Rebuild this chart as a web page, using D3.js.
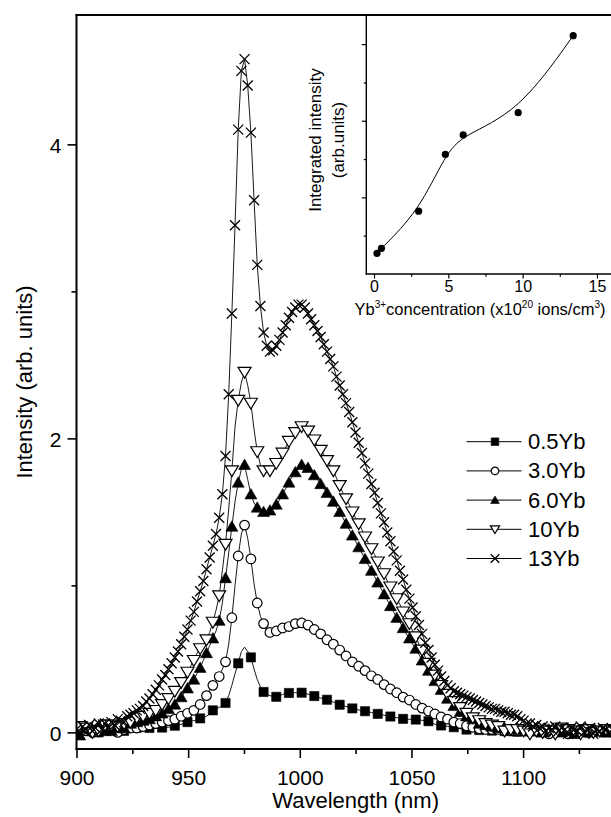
<!DOCTYPE html>
<html>
<head>
<meta charset="utf-8">
<script src="https://cdn.jsdelivr.net/npm/d3@7"></script>
<style>
  html, body { margin: 0; padding: 0; background: #fff; }
  svg { display: block; font-family: "Liberation Sans", Arial, Helvetica, sans-serif; }
</style>
</head>
<body>
<svg id="chart" width="611" height="817"></svg>
<script>
// Emission spectra of Yb-doped samples on the spectrometer wavelength grid (nm)
const wavelengths = [
  900,901.42,902.84,904.26,905.68,907.1,908.52,909.94,911.36,912.78,
  914.2,915.62,917.04,918.46,919.88,921.3,922.72,924.14,925.56,926.98,
  928.4,929.82,931.24,932.66,934.08,935.5,936.92,938.34,939.76,941.18,
  942.6,944.02,945.44,946.86,948.28,949.7,951.12,952.54,953.96,955.38,
  956.8,958.22,959.64,961.06,962.48,963.9,965.32,966.74,968.16,969.58,
  971,972.42,973.84,975.26,976.68,978.1,979.52,980.94,982.36,983.78,
  985.2,986.62,988.04,989.46,990.88,992.3,993.72,995.14,996.56,997.98,
  999.4,1000.82,1002.24,1003.66,1005.08,1006.5,1007.92,1009.34,1010.76,1012.18,
  1013.6,1015.02,1016.44,1017.86,1019.28,1020.7,1022.12,1023.54,1024.96,1026.38,
  1027.8,1029.22,1030.64,1032.06,1033.48,1034.9,1036.32,1037.74,1039.16,1040.58,
  1042,1043.42,1044.84,1046.26,1047.68,1049.1,1050.52,1051.94,1053.36,1054.78,
  1056.2,1057.62,1059.04,1060.46,1061.88,1063.3,1064.72,1066.14,1067.56,1068.98,
  1070.4,1071.82,1073.24,1074.66,1076.08,1077.5,1078.92,1080.34,1081.76,1083.18,
  1084.6,1086.02,1087.44,1088.86,1090.28,1091.7,1093.12,1094.54,1095.96,1097.38,
  1098.8,1100.22,1101.64,1103.06,1104.48,1105.9,1107.32,1108.74,1110.16,1111.58,
  1113,1114.42,1115.84,1117.26,1118.68,1120.1,1121.52,1122.94,1124.36,1125.78,
  1127.2,1128.62,1130.04,1131.46,1132.88,1134.3,1135.72,1137.14,1138.56,1139.98,
  1141.4,1142.82,1144.24
];

const intensity05Yb = [
  0.01,0.00,0.01,0.02,0.00,0.01,0.01,0.00,0.02,0.01,
  0.01,0.02,0.01,0.02,0.02,0.01,0.02,0.03,0.02,0.03,
  0.03,0.02,0.03,0.03,0.03,0.03,0.03,0.033,0.035,0.035,
  0.04,0.045,0.05,0.055,0.06,0.07,0.075,0.08,0.085,0.095,
  0.10,0.11,0.125,0.15,0.16,0.17,0.18,0.20,0.25,0.32,
  0.40,0.47,0.55,0.58,0.55,0.51,0.43,0.36,0.31,0.275,
  0.26,0.25,0.245,0.242,0.25,0.258,0.264,0.268,0.27,0.27,
  0.27,0.27,0.266,0.26,0.254,0.247,0.24,0.234,0.228,0.222,
  0.214,0.206,0.197,0.188,0.182,0.176,0.17,0.163,0.158,0.153,
  0.148,0.144,0.14,0.135,0.13,0.126,0.122,0.117,0.112,0.108,
  0.104,0.10,0.096,0.092,0.09,0.089,0.088,0.087,0.085,0.082,
  0.079,0.076,0.066,0.056,0.05,0.047,0.044,0.041,0.038,0.035,
  0.03,0.025,0.021,0.019,0.018,0.017,0.016,0.016,0.014,0.012,
  0.01,0.012,0.008,0.01,0.006,0.009,0.005,0.008,0.006,0.004,
  0.007,0.005,0.004,0.006,0.003,0.005,0.004,0.002,0.005,0.003,
  0.004,0.002,0.004,0.003,0.002,0.004,0.003,0.001,0.003,0.002,
  0.003,0.001,0.002,0.003,0.001,0.002,0.002,0.001,0.002,0.001,
  0.002,0.001,0.002
];

const intensity30Yb = [
  0.01,0.03,-0.01,0.01,0.02,0.00,-0.01,0.03,0.00,0.02,
  0.01,0.02,0.03,0.00,0.03,0.02,0.03,0.03,0.04,0.03,
  0.04,0.04,0.05,0.05,0.05,0.06,0.06,0.07,0.07,0.08,
  0.08,0.09,0.10,0.11,0.12,0.13,0.14,0.15,0.17,0.19,
  0.22,0.25,0.29,0.32,0.35,0.38,0.43,0.48,0.60,0.78,
  1.00,1.20,1.35,1.41,1.32,1.18,1.01,0.88,0.79,0.74,
  0.70,0.68,0.68,0.69,0.70,0.71,0.72,0.72,0.73,0.74,
  0.745,0.745,0.74,0.73,0.72,0.70,0.69,0.67,0.65,0.63,
  0.61,0.60,0.58,0.56,0.54,0.52,0.50,0.48,0.47,0.45,
  0.43,0.42,0.40,0.385,0.37,0.36,0.34,0.325,0.31,0.295,
  0.28,0.27,0.255,0.24,0.23,0.22,0.205,0.19,0.175,0.165,
  0.155,0.145,0.14,0.125,0.115,0.105,0.10,0.09,0.08,0.07,
  0.065,0.06,0.05,0.045,0.04,0.035,0.03,0.025,0.02,0.02,
  0.01,0.02,0.01,0.02,-0.01,0.01,0.02,0.01,0.00,0.01,
  0.02,0.01,-0.01,0.01,0.01,0.02,0.00,0.01,0.01,-0.01,
  0.02,0.01,0.00,0.01,0.01,-0.01,0.02,0.01,0.00,0.01,
  0.01,0.00,0.01,0.02,-0.01,0.01,0.00,0.01,0.01,0.00,
  0.01,0.02,0.00
];

const intensity60Yb = [
  0.02,-0.02,0.01,0.03,0.00,0.02,-0.01,0.04,0.01,0.01,
  0.03,0.01,0.04,0.03,0.05,0.03,0.05,0.06,0.06,0.07,
  0.07,0.08,0.09,0.09,0.10,0.11,0.12,0.13,0.15,0.16,
  0.18,0.19,0.21,0.24,0.27,0.30,0.33,0.36,0.40,0.44,
  0.49,0.54,0.59,0.64,0.69,0.76,0.88,1.05,1.22,1.40,
  1.57,1.70,1.79,1.82,1.72,1.62,1.56,1.53,1.51,1.50,
  1.50,1.51,1.53,1.55,1.58,1.62,1.66,1.70,1.74,1.77,
  1.80,1.82,1.82,1.80,1.78,1.75,1.72,1.69,1.66,1.63,
  1.60,1.57,1.53,1.50,1.46,1.42,1.38,1.34,1.30,1.26,
  1.22,1.18,1.14,1.10,1.06,1.02,0.98,0.94,0.90,0.86,
  0.82,0.78,0.75,0.71,0.67,0.64,0.60,0.57,0.53,0.49,
  0.45,0.42,0.38,0.35,0.32,0.29,0.26,0.23,0.21,0.18,
  0.16,0.14,0.13,0.11,0.10,0.09,0.07,0.06,0.06,0.05,
  0.04,0.04,0.03,0.03,0.02,0.03,-0.01,0.02,0.01,0.03,
  0.01,0.02,-0.01,0.01,0.02,0.01,0.03,0.00,0.01,0.02,
  -0.01,0.02,0.01,0.00,0.02,0.01,0.02,-0.01,0.01,0.01,
  0.02,0.00,0.01,0.02,-0.01,0.01,0.02,0.00,0.01,0.01,
  0.02,0.00,0.01
];

const intensity10Yb = [
  0.01,0.04,-0.01,0.03,0.02,0.00,0.05,0.01,0.04,0.05,
  0.02,0.05,0.06,0.04,0.07,0.06,0.08,0.07,0.09,0.10,
  0.09,0.11,0.12,0.13,0.14,0.15,0.17,0.19,0.21,0.23,
  0.26,0.28,0.31,0.34,0.37,0.41,0.45,0.49,0.54,0.57,
  0.60,0.63,0.68,0.75,0.83,0.93,1.10,1.28,1.52,1.78,
  2.08,2.26,2.38,2.45,2.36,2.24,2.06,1.91,1.82,1.78,
  1.77,1.78,1.80,1.83,1.86,1.90,1.94,1.98,2.01,2.04,
  2.06,2.08,2.07,2.05,2.02,1.99,1.95,1.92,1.89,1.85,
  1.82,1.78,1.73,1.68,1.63,1.59,1.55,1.50,1.46,1.42,
  1.38,1.33,1.29,1.25,1.21,1.16,1.12,1.08,1.03,0.99,
  0.95,0.91,0.87,0.82,0.78,0.74,0.69,0.65,0.60,0.56,
  0.51,0.47,0.43,0.39,0.35,0.32,0.29,0.26,0.23,0.21,
  0.19,0.17,0.15,0.13,0.12,0.10,0.09,0.08,0.07,0.06,
  0.05,0.05,0.04,0.04,0.03,0.01,0.03,0.02,-0.01,0.02,
  0.03,0.01,0.02,-0.01,0.02,0.01,0.03,0.00,0.02,0.01,
  0.02,-0.01,0.01,0.03,0.01,0.02,0.00,0.01,0.02,-0.01,
  0.01,0.02,0.01,0.00,0.02,0.01,-0.01,0.02,0.01,0.01,
  0.00,0.02,0.01
];

const intensity13Yb = [
  0.02,-0.01,0.04,0.00,0.05,0.01,0.03,0.06,0.02,0.06,
  0.03,0.07,0.05,0.09,0.08,0.07,0.11,0.12,0.13,0.15,
  0.16,0.18,0.21,0.23,0.26,0.29,0.32,0.36,0.39,0.43,
  0.47,0.51,0.55,0.60,0.65,0.70,0.76,0.82,0.89,0.96,
  1.03,1.11,1.19,1.27,1.35,1.46,1.62,1.88,2.30,2.85,
  3.45,4.10,4.50,4.58,4.40,4.08,3.62,3.18,2.90,2.72,
  2.63,2.59,2.60,2.63,2.67,2.72,2.77,2.82,2.86,2.89,
  2.91,2.91,2.89,2.85,2.81,2.77,2.73,2.69,2.64,2.59,
  2.54,2.49,2.42,2.36,2.30,2.24,2.18,2.11,2.04,1.97,
  1.90,1.83,1.76,1.69,1.63,1.56,1.49,1.43,1.36,1.30,
  1.23,1.17,1.10,1.04,0.97,0.91,0.85,0.79,0.73,0.67,
  0.61,0.56,0.51,0.46,0.42,0.38,0.35,0.32,0.30,0.28,
  0.27,0.26,0.25,0.24,0.23,0.22,0.21,0.20,0.19,0.18,
  0.17,0.16,0.16,0.15,0.14,0.14,0.13,0.12,0.12,0.11,
  0.09,0.08,0.06,0.06,0.04,0.05,0.03,0.04,0.01,0.03,
  0.02,0.04,0.01,0.03,0.02,-0.01,0.03,0.02,0.01,0.04,
  0.00,0.02,0.03,-0.01,0.02,0.01,0.03,0.02,0.00,0.02,
  0.01,0.03,0.00
];

const seriesLabels = ["0.5Yb", "3.0Yb", "6.0Yb", "10Yb", "13Yb"];
const seriesValues = [intensity05Yb, intensity30Yb, intensity60Yb, intensity10Yb, intensity13Yb];
const seriesSymbols = ["square", "circle", "triangleUp", "triangleDown", "cross"];
const symbolEvery = [4, 2, 2, 2, 1];
const symbolPhase = [3, 1, 1, 1, 0];

const xMajorTicks = [900, 950, 1000, 1050, 1100];
const xMinorTicks = [925, 975, 1025, 1075, 1125];
const yMajorTicks = [0, 2, 4];
const yMinorTicks = [1, 3];

// Inset: integrated emission intensity versus Yb3+ concentration
const concentrations = [0.2, 0.5, 3.0, 4.8, 6.0, 9.7, 13.4];
const integratedIntensity = [0.54, 0.67, 1.64, 3.12, 3.63, 4.21, 6.22];
const insetXMajorTicks = [0, 5, 10, 15];
const insetXMinorTicks = [2.5, 7.5, 12.5];
const insetYMajorTicks = [2, 4, 6];
const insetYMinorTicks = [1, 3, 5];

const svg = d3.select("#chart");
const plot = { left: 76.5, right: 634.75, top: 15, bottom: 749 };

const x = d3.scaleLinear().domain([900, 1150]).range([plot.left, plot.right]);
const y = d3.scaleLinear().domain([-0.113, 4.88]).range([plot.bottom, plot.top]);

svg.append("clipPath").attr("id", "plotClip")
  .append("rect")
  .attr("x", plot.left).attr("y", plot.top)
  .attr("width", plot.right - plot.left).attr("height", plot.bottom - plot.top);

// marker shapes centred on the origin
function symbolPath(type, s) {
  switch (type) {
    case "square": return `M${-s},${-s}H${s}V${s}H${-s}Z`;
    case "circle": return `M${s},0A${s},${s} 0 1,1 ${-s},0A${s},${s} 0 1,1 ${s},0Z`;
    case "triangleUp": return `M0,${-s * 1.1}L${s * 1.15},${s * 0.9}L${-s * 1.15},${s * 0.9}Z`;
    case "triangleDown": return `M0,${s * 1.1}L${s * 1.2},${-s * 0.9}L${-s * 1.2},${-s * 0.9}Z`;
    case "cross": return `M${-s},${-s}L${s},${s}M${s},${-s}L${-s},${s}`;
  }
}
const symbolSize = { square: 4.6, circle: 4.8, triangleUp: 5.2, triangleDown: 5.4, cross: 5 };
function styleSymbol(sel, type) {
  if (type === "square" || type === "triangleUp") {
    sel.attr("fill", "#000").attr("stroke", "#000").attr("stroke-width", 0.6);
  } else if (type === "cross") {
    sel.attr("fill", "none").attr("stroke", "#000").attr("stroke-width", 1.3);
  } else {
    sel.attr("fill", "#fff").attr("stroke", "#000").attr("stroke-width", 1.2);
  }
}

const dataLayer = svg.append("g").attr("clip-path", "url(#plotClip)");
const line = d3.line().x(d => x(d[0])).y(d => y(d[1]));

seriesValues.forEach((vals, si) => {
  const pts = wavelengths.map((w, i) => [w, vals[i]]);
  const g = dataLayer.append("g");
  g.append("path")
    .attr("d", line(pts))
    .attr("fill", "none")
    .attr("stroke", "#000")
    .attr("stroke-width", 0.9);
  const type = seriesSymbols[si];
  const marked = pts.filter((p, i) => i % symbolEvery[si] === symbolPhase[si]);
  g.selectAll("path.sym")
    .data(marked)
    .join("path")
    .attr("class", "sym")
    .attr("transform", d => `translate(${x(d[0])},${y(d[1])})`)
    .attr("d", symbolPath(type, symbolSize[type]))
    .call(styleSymbol, type);
});

// axes
const axisStroke = 2;
const xAxis = svg.append("g").attr("transform", `translate(0,${plot.bottom})`)
  .call(d3.axisBottom(x).tickValues(xMajorTicks).tickSize(9).tickFormat(d3.format("d")));
const xMinor = svg.append("g").attr("transform", `translate(0,${plot.bottom})`)
  .call(d3.axisBottom(x).tickValues(xMinorTicks).tickSize(5).tickFormat(""));
const yAxis = svg.append("g").attr("transform", `translate(${plot.left},0)`)
  .call(d3.axisLeft(y).tickValues(yMajorTicks).tickSize(9).tickFormat(d3.format("d")));
const yMinor = svg.append("g").attr("transform", `translate(${plot.left},0)`)
  .call(d3.axisLeft(y).tickValues(yMinorTicks).tickSize(5).tickFormat(""));

[xAxis, xMinor, yAxis, yMinor].forEach(a => {
  a.select(".domain").remove();
  a.selectAll(".tick line").attr("stroke", "#000").attr("stroke-width", 1.6);
  a.selectAll(".tick text").attr("fill", "#000").attr("font-size", 21)
    .attr("font-family", "Liberation Sans, Arial, sans-serif");
});
xAxis.selectAll(".tick text").attr("y", 36).attr("dy", 0);
yAxis.selectAll(".tick text").attr("x", -15).attr("dy", "0.38em");

// frame lines: left, bottom, top
svg.append("line").attr("x1", plot.left).attr("x2", plot.left)
  .attr("y1", plot.top - 1).attr("y2", plot.bottom + 1)
  .attr("stroke", "#000").attr("stroke-width", axisStroke);
svg.append("line").attr("x1", plot.left - 1).attr("x2", plot.right)
  .attr("y1", plot.bottom).attr("y2", plot.bottom)
  .attr("stroke", "#000").attr("stroke-width", axisStroke);
svg.append("line").attr("x1", plot.left - 1).attr("x2", plot.right)
  .attr("y1", plot.top).attr("y2", plot.top)
  .attr("stroke", "#000").attr("stroke-width", axisStroke);

// axis titles
svg.append("text")
  .attr("x", (plot.left + plot.right) / 2).attr("y", 808)
  .attr("text-anchor", "middle").attr("font-size", 22)
  .text("Wavelength (nm)");
svg.append("text")
  .attr("transform", `translate(32,${(plot.top + plot.bottom) / 2}) rotate(-90)`)
  .attr("text-anchor", "middle").attr("font-size", 22)
  .text("Intensity (arb. units)");

// legend
const legend = svg.append("g");
const legendY0 = 441.7, legendStep = 29.2;
seriesLabels.forEach((lab, i) => {
  const ly = legendY0 + i * legendStep;
  legend.append("line").attr("x1", 466.5).attr("x2", 521.5)
    .attr("y1", ly).attr("y2", ly).attr("stroke", "#000").attr("stroke-width", 1);
  const type = seriesSymbols[i];
  legend.append("path")
    .attr("transform", `translate(495,${ly})`)
    .attr("d", symbolPath(type, type === "cross" ? 4.3 : 3.8))
    .call(styleSymbol, type);
  legend.append("text").attr("x", 528).attr("y", ly + 7.5)
    .attr("font-size", 22).text(lab);
});

// inset
const inset = { left: 366.3, right: 620, top: 15, bottom: 274 };
const ix = d3.scaleLinear().domain([-0.52, 16.55]).range([inset.left, inset.right]);
const iy = d3.scaleLinear().domain([0, 6.76]).range([inset.bottom, inset.top]);
const insetG = svg.append("g");

const fitLine = d3.line().curve(d3.curveBasis)
  .x((d, i) => ix(concentrations[i])).y(d => iy(d));
insetG.append("path")
  .attr("d", fitLine(integratedIntensity))
  .attr("fill", "none").attr("stroke", "#000").attr("stroke-width", 1);
insetG.selectAll("circle.pt")
  .data(integratedIntensity)
  .join("circle")
  .attr("class", "pt")
  .attr("cx", (d, i) => ix(concentrations[i]))
  .attr("cy", d => iy(d))
  .attr("r", 3.6)
  .attr("fill", "#000");

const ixAxis = insetG.append("g").attr("transform", `translate(0,${inset.bottom})`)
  .call(d3.axisBottom(ix).tickValues(insetXMajorTicks).tickSize(4.5).tickFormat(d3.format("d")));
const ixMinor = insetG.append("g").attr("transform", `translate(0,${inset.bottom})`)
  .call(d3.axisBottom(ix).tickValues(insetXMinorTicks).tickSize(2.8).tickFormat(""));
const iyAxis = insetG.append("g").attr("transform", `translate(${inset.left},0)`)
  .call(d3.axisLeft(iy).tickValues(insetYMajorTicks).tickSize(4.5).tickFormat(""));
const iyMinor = insetG.append("g").attr("transform", `translate(${inset.left},0)`)
  .call(d3.axisLeft(iy).tickValues(insetYMinorTicks).tickSize(2.5).tickFormat(""));
[ixAxis, ixMinor, iyAxis, iyMinor].forEach(a => {
  a.select(".domain").remove();
  a.selectAll(".tick line").attr("stroke", "#000").attr("stroke-width", 1.2);
  a.selectAll(".tick text").attr("fill", "#000").attr("font-size", 16)
    .attr("font-family", "Liberation Sans, Arial, sans-serif");
});
ixAxis.selectAll(".tick text").attr("y", 18).attr("dy", 0);

insetG.append("line").attr("x1", inset.left).attr("x2", inset.left)
  .attr("y1", inset.top).attr("y2", inset.bottom + 0.7)
  .attr("stroke", "#000").attr("stroke-width", 1.4);
insetG.append("line").attr("x1", inset.left - 0.7).attr("x2", inset.right)
  .attr("y1", inset.bottom).attr("y2", inset.bottom)
  .attr("stroke", "#000").attr("stroke-width", 1.4);

// inset axis titles
const ixTitle = insetG.append("text")
  .attr("x", 480).attr("y", 315)
  .attr("text-anchor", "middle").attr("font-size", 16.5);
ixTitle.append("tspan").text("Yb");
ixTitle.append("tspan").attr("font-size", 10).attr("dy", -7).text("3+");
ixTitle.append("tspan").attr("dy", 7).text("concentration (x10");
ixTitle.append("tspan").attr("font-size", 10).attr("dy", -7).text("20");
ixTitle.append("tspan").attr("dy", 7).text(" ions/cm");
ixTitle.append("tspan").attr("font-size", 10).attr("dy", -7).text("3");
ixTitle.append("tspan").attr("dy", 7).text(")");

insetG.append("text")
  .attr("transform", `translate(321,140) rotate(-90)`)
  .attr("text-anchor", "middle").attr("font-size", 17)
  .text("Integrated intensity");
insetG.append("text")
  .attr("transform", `translate(344,140) rotate(-90)`)
  .attr("text-anchor", "middle").attr("font-size", 17)
  .text("(arb.units)");
</script>
</body>
</html>
